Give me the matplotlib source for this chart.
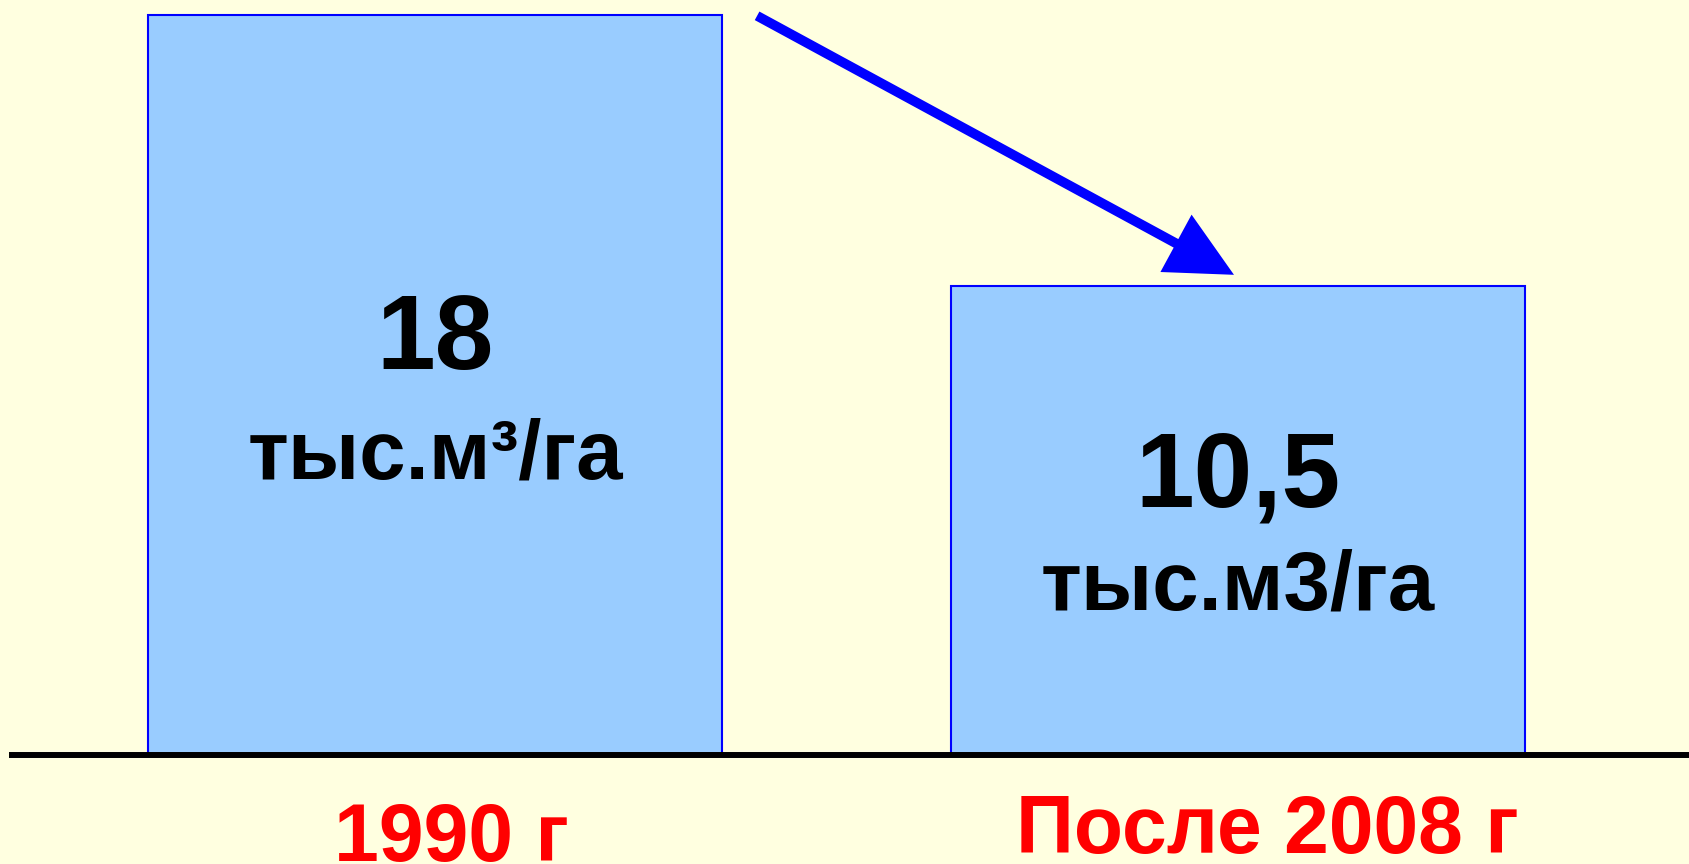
import matplotlib
matplotlib.use('Agg')
import matplotlib.pyplot as plt

# данные
kategorii = ['1990 г', 'После 2008 г']
vysota = [18, 11.4]          # высота столбцов, как на рисунке
znachenie = ['18', '10,5']
edinicy = ['тыс.м³/га', 'тыс.м3/га']

# положение подписей (в единицах оси y)
y_chislo = [9.38, 6.04]
y_edin = [6.72, 3.55]
y_kat = [-2.58, -2.39]
dx_kat = [0.02, 0.037]

plt.rcParams['font.family'] = ['Liberation Sans', 'DejaVu Sans']
plt.rcParams['font.weight'] = 'bold'

fig = plt.figure(figsize=(16.9, 8.64), dpi=100)
fig.patch.set_facecolor('#FFFFE0')
ax = fig.add_axes([0, 0, 1, 1])
ax.set_facecolor('#FFFFE0')

x = list(range(len(kategorii)))
ax.bar(x, vysota, width=0.715, color='#99CCFF', edgecolor='#0000FF', linewidth=1.5, zorder=2)

# ось
ax.axhline(0, xmin=0.007, xmax=1, color='black', linewidth=4.3, zorder=3)

for i in x:
    ax.text(i, y_chislo[i], znachenie[i], ha='center', va='baseline', fontsize=76,
            fontweight='bold', color='black', zorder=4)
    ax.text(i, y_edin[i], edinicy[i], ha='center', va='baseline', fontsize=60,
            fontweight='bold', color='black', zorder=4)
    ax.text(i + dx_kat[i], y_kat[i], kategorii[i], ha='center', va='baseline', fontsize=58,
            fontweight='bold', color='#FF0000', zorder=4)

# стрелка вниз
ax.annotate('', xy=(0.995, 11.68), xytext=(0.401, 17.98),
            arrowprops=dict(arrowstyle='simple,head_length=47.5,head_width=47,tail_width=7',
                            mutation_scale=1, fc='#0000FF', ec='none', lw=0,
                            shrinkA=0, shrinkB=0), zorder=5)

ax.set_xlim(-0.542, 1.563)
ax.set_ylim(-2.652, 18.365)
ax.axis('off')

fig.savefig('out.png', dpi=100, facecolor=fig.get_facecolor())
